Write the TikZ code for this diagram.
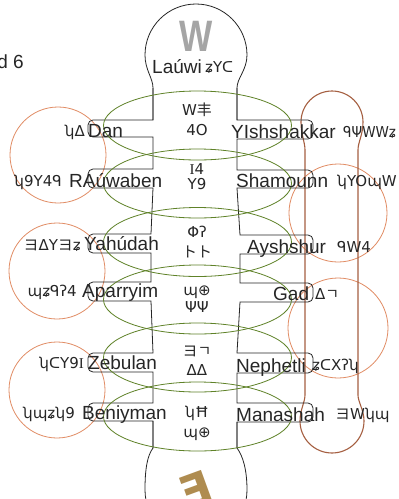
\documentclass[tikz,border=0pt]{standalone}
\usepackage{fontspec}
\setmainfont{Liberation Sans}
\newfontfamily\gl{DejaVu Sans}
\newfontfamily\cj{Noto Sans CJK JP}
\newfontfamily\serf{Liberation Serif}
\newcommand\gHe{{\cj ヨ}}
\newcommand\gGi{{\cj ㄱ}}
\newcommand\gSa{{\cj 丰}}
\newcommand\gTo{{\cj ト}}
\newcommand\gZa{{\serf I}}
\definecolor{elgreen}{RGB}{95,130,40}
\definecolor{orcirc}{RGB}{225,140,100}
\definecolor{brloop}{RGB}{165,95,65}
\definecolor{tanglyph}{RGB}{175,140,80}
\definecolor{wgray}{RGB}{165,165,165}
\begin{document}
\begin{tikzpicture}[x=1pt,y=1pt,yscale=-1,
 outl/.style={draw=black!85,line width=0.8pt},
 ell/.style={draw=elgreen,line width=0.8pt},
 orc/.style={draw=orcirc,line width=0.8pt},
 nm/.style={font=\fontsize{19}{22}\selectfont,text=black!85,inner sep=0pt,anchor=base west},
 gly/.style={font=\gl\fontsize{15}{18}\selectfont,text=black!85,inner sep=0pt},
 ltab/.style 2 args={insert path={-- (93,#1) arc[start angle=270,end angle=180,radius=5] -- (88,{#2-5}) arc[start angle=180,end angle=90,radius=5]}},
 rtab/.style 2 args={insert path={-- (308,#1) arc[start angle=270,end angle=360,radius=5] -- (313,{#2-5}) arc[start angle=0,end angle=90,radius=5]}}
]
\useasboundingbox (0,0) rectangle (399,499);
\clip (0,0) rectangle (399,499);
\fill[white] (0,0) rectangle (399,499);

% orange circles
\draw[orc] (58,155) circle[radius=48];
\draw[orc] (57,271) circle[radius=48];
\draw[orc] (57,390) circle[radius=48];
\draw[orc] (338,213) circle[radius=49];
\draw[orc] (338,328) circle[radius=50];

% brown capsule
\draw[draw=brloop,line width=1.1pt] (305,150) .. controls (305,142) and (301,135) .. (301,122)
  arc[start angle=180,end angle=360,radius=31]
  .. controls (363,135) and (358,142) .. (358,150) -- (358,395)
  .. controls (358,402) and (364,410) .. (364,421)
  arc[start angle=0,end angle=180,radius=32]
  .. controls (300,410) and (305,402) .. (305,395) -- cycle;

% bulbs
\draw[outl] (153,120) -- (153,88) .. controls (153,78) and (145,70) .. (145,55)
  arc[start angle=180,end angle=360,radius=51]
  .. controls (247,70) and (237,78) .. (237,88) -- (237,120);
\draw[outl] (153,421) -- (153,448) .. controls (147,456) and (145,470) .. (145,490)
  arc[start angle=180,end angle=0,radius=51]
  .. controls (247,470) and (243,456) .. (237,448) -- (237,422);

% comb outlines
\draw[outl] (153,88) -- (153,120) [ltab={120}{137}] -- (153,137) -- (153,169) [ltab={169}{188}]
  -- (153,188) -- (151,234) [ltab={234}{253}] -- (151,253) -- (151,282) [ltab={282}{301}]
  -- (151,301) -- (153,353) [ltab={353}{372}] -- (153,372) -- (153,403) [ltab={403}{421}]
  -- (153,421) -- (153,448);
\draw[outl] (237,88) -- (237,120) [rtab={120}{139}] -- (237,139) -- (237,170) [rtab={170}{188}]
  -- (237,188) -- (240,235) [rtab={235}{254}] -- (240,254) -- (240,283) [rtab={283}{302}]
  -- (240,302) -- (237,353) [rtab={353}{373}] -- (237,373) -- (237,403) [rtab={403}{422}]
  -- (237,422) -- (237,448);

% green ellipses
\foreach \cy in {125.5,183.5,242,299.5,357.5,416.5}
  \draw[ell] (197.5,\cy) ellipse[x radius=94,y radius=34.5];

% top and bottom glyphs
\node[inner sep=0pt,text=wgray,font=\bfseries\fontsize{44}{44}\selectfont,xscale=0.8] (wtop) at (196,36) {W};
\node[inner sep=0pt,text=tanglyph,font=\gl\bfseries\fontsize{46}{46}\selectfont,rotate=20] (hebot) at (196,490) {Ǝ};

\node[nm,anchor=base east] (band) at (24,68) {nd 6};

% names
\node[nm] (lauwi) at (152,73) {Laúwi};
\node[nm] (dan) at (88,137) {Dan};
\node[nm] (rauw) at (69,187) {RAúwaben};
\node[nm] (yahu) at (84,250) {Yahúdah};
\node[nm] (apar) at (82,297) {Aparryim};
\node[nm] (zebu) at (88,369) {Zebulan};
\node[nm] (beni) at (82,419) {Beniyman};
\node[nm] (yish) at (231,138) {YIshshakkar};
\node[nm] (sham) at (236,187) {Shamounn};
\node[nm] (aysh) at (247,253) {Ayshshur};
\node[nm] (gad) at (273,300) {Gad};
\node[nm] (neph) at (236,372) {Nephetli};
\node[nm] (mana) at (236,421) {Manashah};

% paleo labels
\node[gly,anchor=base west] (glauwi) at (205,72) {ʑYᑕ};
\node[gly,anchor=base east] (gdan) at (85,136) {ʮΔ};
\node[gly,anchor=base east] (grauw) at (62,186) {ʮ9Y4ᑫ};
\node[gly,anchor=base east] (gyahu) at (81,250) {\gHe ΔY\gHe ʑ};
\node[gly,anchor=base east] (gapar) at (77,296) {ɰʑᑫʔ4};
\node[gly,anchor=base east] (gzebu) at (84,368) {ʮᑕY9\gZa};
\node[gly,anchor=base east] (gbeni) at (75,418) {ʮɰʑʮ9};
\node[gly,anchor=base west,xscale=0.9] (gyish) at (343,137) {ᑫΨWWʑ};
\node[gly,anchor=base west] (gsham) at (337,186) {ʮYOɰW};
\node[gly,anchor=base west] (gaysh) at (337,252) {ᑫW4};
\node[gly,anchor=base west] (ggad) at (315,299) {Δ\gGi};
\node[gly,anchor=base west] (gneph) at (312,370) {ʑᑕXʔʮ};
\node[gly,anchor=base west] (gmana) at (335,419) {\gHe Wʮɰ};

% centre stones
\node[gly,anchor=base] (c1a) at (197,115) {W\gSa};
\node[gly,anchor=base] (c1b) at (197,135) {4O};
\node[gly,anchor=base] (c2a) at (197,174) {\gZa 4};
\node[gly,anchor=base] (c2b) at (197,189) {Y9};
\node[gly,anchor=base] (c3a) at (197,237) {Φʔ};
\node[gly,anchor=base] (c3b) at (197,257) {\gTo\gTo};
\node[gly,anchor=base] (c4a) at (197,295) {ɰ⊕};
\node[gly,anchor=base] (c4b) at (197,312) {ΨΨ};
\node[gly,anchor=base] (c5a) at (197,356) {\gHe\gGi};
\node[gly,anchor=base] (c5b) at (197,375) {ΔΔ};
\node[gly,anchor=base] (c6a) at (197,417) {ʮĦ};
\node[gly,anchor=base] (c6b) at (197,437) {ɰ⊕};
\end{tikzpicture}
\end{document}
